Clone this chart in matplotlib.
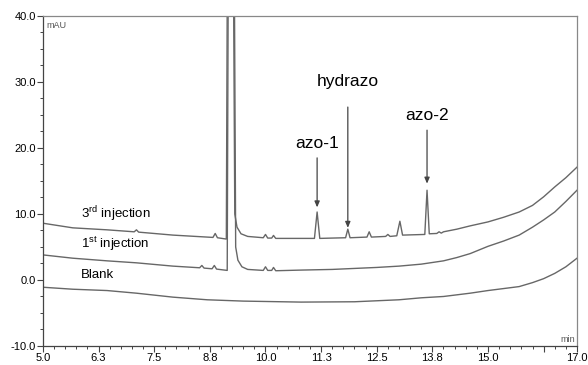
import matplotlib
matplotlib.use("Agg")
import matplotlib.pyplot as plt
from matplotlib.ticker import FixedLocator, MultipleLocator

plt.rcParams['font.family'] = ['Liberation Sans', 'DejaVu Sans']
plt.rcParams['mathtext.fontset'] = 'custom'
plt.rcParams['mathtext.rm'] = 'Liberation Sans'

# retention time (min) / absorbance (mAU)
t_third = [5.0, 5.67, 6.44, 7.05, 7.1, 7.15, 7.92, 8.69, 8.82, 8.87, 8.92, 9.12,
           9.15, 9.27, 9.31, 9.36, 9.45, 9.6, 9.95, 10.0, 10.05, 10.14, 10.18, 10.23,
           10.7, 11.1, 11.16, 11.22, 11.5, 11.8, 11.85, 11.9, 12.28, 12.33, 12.38,
           12.7, 12.75, 12.8, 12.95, 13.02, 13.08, 13.58, 13.63, 13.68, 13.85, 13.9,
           13.95, 14.0, 14.3, 14.6, 15.0, 15.35, 15.7, 16.0, 16.25, 16.5, 16.75, 17.0]
y_third = [8.6, 7.9, 7.6, 7.3, 7.6, 7.25, 6.8, 6.5, 6.45, 7.05, 6.4, 6.2,
           60, 60, 10.0, 8.0, 7.0, 6.6, 6.4, 6.9, 6.35, 6.35, 6.75, 6.3,
           6.3, 6.3, 10.3, 6.3, 6.35, 6.4, 7.7, 6.4, 6.5, 7.3, 6.5,
           6.6, 6.9, 6.6, 6.7, 8.9, 6.8, 6.9, 13.6, 7.0, 7.05, 7.3,
           7.1, 7.3, 7.7, 8.2, 8.8, 9.5, 10.3, 11.3, 12.6, 14.1, 15.5, 17.1]

t_first = [5.0, 5.67, 6.44, 7.1, 7.92, 8.52, 8.57, 8.62, 8.8, 8.85, 8.9, 9.14,
           9.17, 9.29, 9.33, 9.38, 9.47, 9.6, 9.95, 10.0, 10.05, 10.14, 10.18, 10.23,
           10.8, 11.5, 12.5, 13.0, 13.5, 14.0, 14.3, 14.6, 15.0, 15.35, 15.7, 16.0,
           16.25, 16.5, 16.75, 17.0]
y_first = [3.8, 3.3, 2.9, 2.6, 2.1, 1.85, 2.2, 1.8, 1.7, 2.2, 1.65, 1.45,
           60, 60, 5.0, 3.0, 2.0, 1.6, 1.45, 2.0, 1.45, 1.45, 1.9, 1.4,
           1.5, 1.6, 1.9, 2.1, 2.4, 2.9, 3.4, 4.0, 5.1, 5.9, 6.8, 8.0,
           9.1, 10.3, 11.9, 13.6]

t_blank = [5.0, 5.67, 6.44, 7.1, 7.92, 8.69, 9.5, 10.8, 12.0, 13.0, 13.5, 14.0,
           14.6, 15.0, 15.35, 15.7, 16.0, 16.25, 16.5, 16.75, 17.0]
y_blank = [-1.1, -1.4, -1.6, -2.0, -2.6, -3.0, -3.2, -3.35, -3.3, -3.0, -2.7, -2.5,
           -2.0, -1.6, -1.3, -1.0, -0.4, 0.2, 1.0, 2.0, 3.3]

x_ticks = [5.0, 6.25, 7.5, 8.75, 10.0, 11.25, 12.5, 13.75, 15.0, 16.25, 17.0]
x_labels = ['5.0', '6.3', '7.5', '8.8', '10.0', '11.3', '12.5', '13.8', '15.0', '', '17.0']
y_ticks = [-10, 0, 10, 20, 30, 40]
y_labels = ['-10.0', '0.0', '10.0', '20.0', '30.0', '40.0']

trace_names = ['3$^{\\mathrm{rd}}$ injection', '1$^{\\mathrm{st}}$ injection', 'Blank']
trace_label_y = [9.4, 4.85, 0.3]

peak_names = ['azo-1', 'hydrazo', 'azo-2']
peak_times = [11.16, 11.85, 13.63]
peak_text_y = [20.0, 29.4, 24.2]
arrow_top = [18.5, 26.2, 22.7]
arrow_tip = [11.0, 7.9, 14.6]

fig = plt.figure(figsize=(5.88, 3.65), dpi=100)
ax = fig.add_axes([0.0731, 0.0521, 0.9082, 0.9041])

col = '#676767'
ax.plot(t_third, y_third, color=col, lw=1.0)
ax.plot(t_first, y_first, color=col, lw=1.0)
ax.plot(t_blank, y_blank, color=col, lw=1.0)

ax.set_xlim(5.0, 17.0)
ax.set_ylim(-10, 40)

for name, yy in zip(trace_names, trace_label_y):
    ax.text(5.85, yy, name, fontsize=9.5, va='baseline', ha='left', color='black')

for name, tt, ty, a0, a1 in zip(peak_names, peak_times, peak_text_y, arrow_top, arrow_tip):
    ax.text(tt, ty, name, fontsize=12.5, ha='center', va='baseline', color='black')
    ax.annotate('', xy=(tt, a1), xytext=(tt, a0),
                arrowprops=dict(arrowstyle='-|>,head_length=0.35,head_width=0.15',
                                color='#444444', lw=0.9, shrinkA=0, shrinkB=0))

ax.text(0.006, 0.985, 'mAU', transform=ax.transAxes, fontsize=6.5, color='#555555',
        ha='left', va='top')
ax.text(0.996, 0.005, 'min', transform=ax.transAxes, fontsize=6.5, color='#555555',
        ha='right', va='bottom')

ax.xaxis.set_major_locator(FixedLocator(x_ticks))
ax.set_xticklabels(x_labels)
ax.xaxis.set_minor_locator(MultipleLocator(0.25))
ax.yaxis.set_major_locator(FixedLocator(y_ticks))
ax.set_yticklabels(y_labels)
ax.yaxis.set_minor_locator(MultipleLocator(2.5))

ax.tick_params(which='major', direction='out', length=4, width=0.8, color='#444444',
               labelsize=8, pad=1, labelcolor='black')
ax.tick_params(which='minor', direction='out', length=2.5, width=0.7, color='#444444')

for side in ['left', 'bottom']:
    ax.spines[side].set_color('#444444')
    ax.spines[side].set_linewidth(0.9)
for side in ['top', 'right']:
    ax.spines[side].set_color('#888888')
    ax.spines[side].set_linewidth(0.9)

fig.savefig('out.png', dpi=100)
